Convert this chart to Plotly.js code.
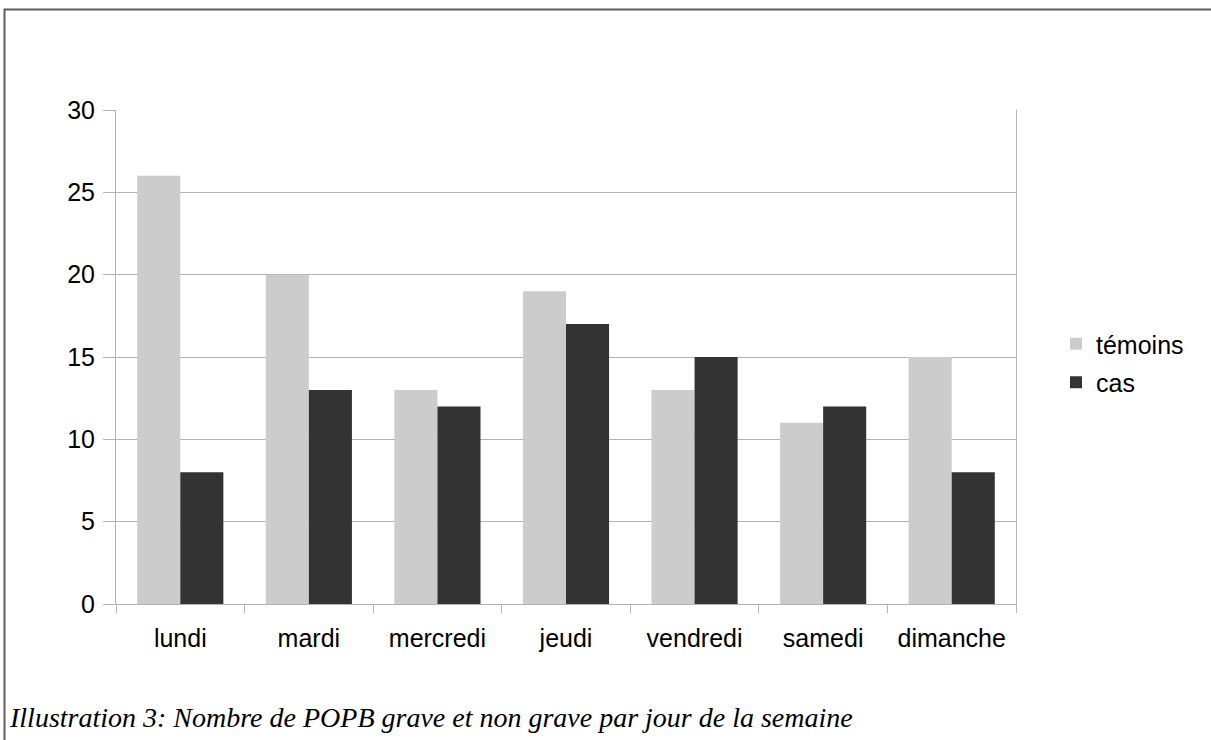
<!DOCTYPE html>
<html>
<head>
<meta charset="utf-8">
<script src="https://cdn.plot.ly/plotly-3.0.1.min.js"></script>
<style>html,body{margin:0;padding:0;background:#fff;}#chart{width:1211px;height:740px;}</style>
</head>
<body>
<div id="chart"></div>
<script>
const days = ["lundi", "mardi", "mercredi", "jeudi", "vendredi", "samedi", "dimanche"];
const temoins = [26, 20, 13, 19, 13, 11, 15];
const cas = [8, 13, 12, 17, 15, 12, 8];
const seriesNames = ["témoins", "cas"];
const caption = "Illustration 3: Nombre de POPB grave et non grave par jour de la semaine";

const W = 1211, H = 740;
const L = 116, R = 1016, T = 110, B = 604;
const px2x = p => (p - L) / (R - L);
const py2y = p => (B - p) / (B - T);

const traces = [
  {type: "bar", name: seriesNames[0], legendgroup: "g1", x: days, y: temoins, marker: {color: "#cccccc"}},
  {type: "bar", name: seriesNames[1], legendgroup: "g2", x: days, y: cas, marker: {color: "#333333"}}
];

const layout = {
  width: W, height: H,
  margin: {l: L, r: W - R, t: T, b: H - B, pad: 0},
  paper_bgcolor: "#ffffff", plot_bgcolor: "#ffffff",
  font: {family: "Liberation Sans, Arial, sans-serif", size: 25, color: "#000000"},
  barmode: "group", bargap: 0.33, bargroupgap: 0,
  showlegend: true,
  legend: {x: px2x(1056), y: py2y(363), xanchor: "left", yanchor: "middle",
           font: {size: 25}, bgcolor: "rgba(0,0,0,0)", itemwidth: 30,
           traceorder: "grouped", tracegroupgap: 3},
  xaxis: {type: "category", tickson: "boundaries", ticks: "outside", ticklen: 8,
          tickcolor: "#b3b3b3", showline: true, linecolor: "#b3b3b3", linewidth: 1,
          showgrid: false, zeroline: false, ticklabelstandoff: 12, fixedrange: true},
  yaxis: {range: [0, 30], dtick: 5, ticks: "outside", ticklen: 12, tickcolor: "#b3b3b3",
          showline: true, mirror: true, linecolor: "#b3b3b3", linewidth: 1,
          showgrid: true, gridcolor: "#b3b3b3", gridwidth: 1, zeroline: false,
          ticklabelstandoff: 3, fixedrange: true},
  shapes: [
    {type: "rect", xref: "paper", yref: "paper", x0: px2x(4.5), x1: px2x(1230),
     y0: py2y(760), y1: py2y(9.5), line: {color: "#5e5e5e", width: 2}, layer: "below"}
  ],
  annotations: [
    {xref: "paper", yref: "paper", x: px2x(7), y: py2y(717), xanchor: "left", yanchor: "middle",
     text: "<i>" + caption + "</i>", showarrow: false,
     font: {family: "Liberation Serif, Times New Roman, serif", size: 28, color: "#000000"}}
  ]
};

Plotly.newPlot("chart", traces, layout, {displayModeBar: false, staticPlot: true});
</script>
</body>
</html>
